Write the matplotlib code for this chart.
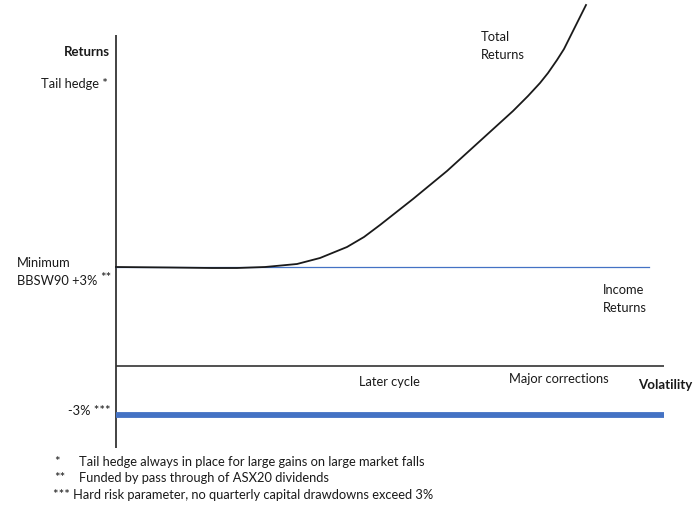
import matplotlib
matplotlib.use("Agg")
import matplotlib.pyplot as plt

plt.rcParams['font.family'] = ['Lato', 'DejaVu Sans']

# Schematic return profile (volatility vs returns, arbitrary units)
total_vol = [0, 54, 96, 121, 149, 181, 204, 231, 248, 264, 297, 331, 364, 397,
             412, 424, 432, 441, 448, 454, 464, 470]
total_ret = [99, 98.5, 98, 98, 99, 102, 108, 119, 129, 141, 167, 195, 225, 255,
             270, 283, 293, 306, 317, 329, 349, 361]

income_vol = [0, 533]
income_ret = [99, 99]

drawdown_vol = [0, 548]
drawdown_ret = [-49, -49]

axis_vol_end = 548
axis_ret_range = [-82, 331]

footnotes = [
    ("*", "Tail hedge always in place for large gains on large market falls"),
    ("**", "Funded by pass through of ASX20 dividends"),
    ("***", "Hard risk parameter, no quarterly capital drawdowns exceed 3%"),
]

W, H = 695, 509
fig = plt.figure(figsize=(W / 100, H / 100), dpi=100)
ax = fig.add_axes([0, 0, 1, 1])
ax.set_xlim(-116, W - 116)
ax.set_ylim(366 - H, 366)
ax.axis('off')

txt = '#1a1a1a'
blue = '#4472C4'

def P(px, py):
    # canvas pixel position -> data coordinates
    return px - 116, 366 - py

# axes lines
ax.plot([0, 0], axis_ret_range, color='#222222', lw=1.2, solid_capstyle='butt')
ax.plot([0, axis_vol_end], [0, 0], color='#333333', lw=1.2, solid_capstyle='butt')

# series
ax.plot(income_vol, income_ret, color=blue, lw=0.9)
ax.plot(total_vol, total_ret, color='#1a1a1a', lw=1.3, solid_joinstyle='round')
ax.plot(drawdown_vol, drawdown_ret, color=blue, lw=4.2, solid_capstyle='butt')

fs = 9.3
bfs = 9.5
ax.text(*P(110, 52), "Returns", ha='right', va='center', fontsize=bfs,
        fontweight='bold', color=txt)
ax.text(*P(108, 84), "Tail hedge *", ha='right', va='center', fontsize=fs, color=txt)
ax.text(*P(17, 263), "Minimum", ha='left', va='center', fontsize=fs, color=txt)
ax.text(*P(17, 281), "BBSW90 +3%", ha='left', va='center', fontsize=fs, color=txt)
ax.text(*P(111, 278), "**", ha='right', va='center', fontsize=fs, color=txt)
ax.text(*P(481, 37), "Total", ha='left', va='center', fontsize=fs, color=txt)
ax.text(*P(481, 55), "Returns", ha='left', va='center', fontsize=fs, color=txt)
ax.text(*P(603, 290), "Income", ha='left', va='center', fontsize=fs, color=txt)
ax.text(*P(603, 308), "Returns", ha='left', va='center', fontsize=fs, color=txt)
ax.text(*P(389, 382), "Later cycle", ha='center', va='center', fontsize=fs, color=txt)
ax.text(*P(559, 379), "Major corrections", ha='center', va='center', fontsize=fs, color=txt)
ax.text(*P(692, 385), "Volatility", ha='right', va='center', fontsize=bfs,
        fontweight='bold', color=txt)
ax.text(*P(111, 411), "-3% ***", ha='right', va='center', fontsize=fs, color=txt)

rows_y = [462, 478, 495]
for (mark, note), y in zip(footnotes, rows_y):
    if mark == "***":
        ax.text(*P(53, y), mark + " " + note, ha='left', va='center', fontsize=fs, color=txt)
    else:
        ax.text(*P(54, y), mark, ha='left', va='center', fontsize=fs, color=txt)
        ax.text(*P(79, y), note, ha='left', va='center', fontsize=fs, color=txt)

fig.savefig("out.png", dpi=100, facecolor='white')
